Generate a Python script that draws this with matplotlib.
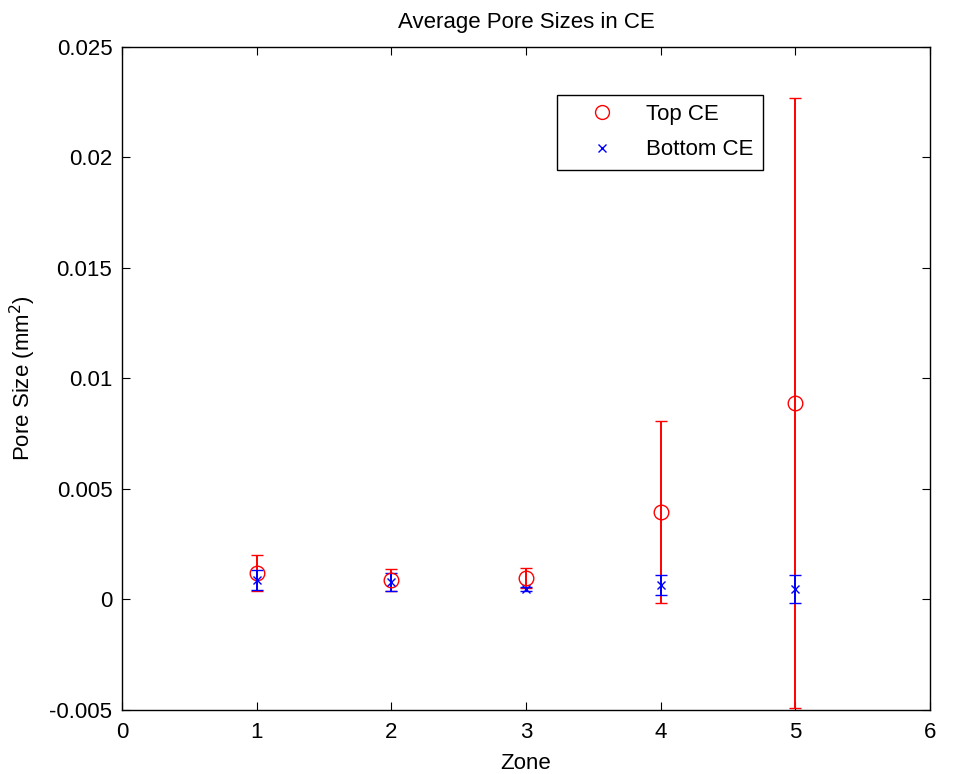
import matplotlib
matplotlib.use("Agg")
import matplotlib.pyplot as plt
from matplotlib.lines import Line2D

plt.rcParams['font.family'] = ['Liberation Sans', 'DejaVu Sans']

zones = [1, 2, 3, 4, 5]
top_mean = [0.0012, 0.0009, 0.00097, 0.00396, 0.0089]
top_err = [0.0008, 0.0005, 0.00045, 0.0041, 0.0138]
bot_mean = [0.00088, 0.0008, 0.00048, 0.00066, 0.00047]
bot_err = [0.00045, 0.0004, 0.0001, 0.00045, 0.00065]

xticks = [0, 1, 2, 3, 4, 5, 6]
yticks = [-0.005, 0, 0.005, 0.01, 0.015, 0.02, 0.025]
ytick_labels = ['-0.005', '0', '0.005', '0.01', '0.015', '0.02', '0.025']

FS = 16

fig = plt.figure(figsize=(9.63, 7.74), dpi=100)
ax = fig.add_axes([0.1267, 0.0827, 0.8390, 0.8566])

ax.errorbar(zones, top_mean, yerr=top_err, fmt='o', color='red', mfc='none',
            mec='red', ms=10.5, capsize=4.5, elinewidth=1.4, capthick=1.4,
            mew=1.0, label='Top CE')
ax.errorbar(zones, bot_mean, yerr=bot_err, fmt='x', color='blue',
            ms=6, capsize=4.5, elinewidth=1.4, capthick=1.4, mew=1.0,
            label='Bottom CE')

ax.set_xlim(0, 6)
ax.set_ylim(-0.005, 0.025)
ax.set_xticks(xticks)
ax.set_xticklabels([str(v) for v in xticks])
ax.set_yticks(yticks)
ax.set_yticklabels(ytick_labels)
ax.tick_params(direction='in', top=True, right=True, labelsize=FS, length=6)
ax.tick_params(axis='y', pad=7)
ax.tick_params(axis='x', pad=9)
for s in ax.spines.values():
    s.set_linewidth(1.0)

ax.set_title('Average Pore Sizes in CE', fontsize=FS, pad=14)
ax.set_xlabel('Zone', fontsize=FS, labelpad=7)
ax.set_ylabel('Pore Size (mm$^2$)', fontsize=FS)
ax.yaxis.set_label_coords(-0.104, 0.5)

h1 = Line2D([], [], marker='o', ls='none', mfc='none', mec='red', ms=10)
h2 = Line2D([], [], marker='x', ls='none', color='blue', ms=6)
leg = ax.legend([h1, h2], ['Top CE', 'Bottom CE'], loc='upper left',
                bbox_to_anchor=(0.538, 0.928), fontsize=FS, fancybox=False,
                framealpha=1, edgecolor='black', borderpad=0.42,
                handlelength=3.2, handletextpad=0.4, labelspacing=0.65,
                borderaxespad=0)
leg.get_frame().set_linewidth(1.0)

fig.savefig('out.png', dpi=100)
